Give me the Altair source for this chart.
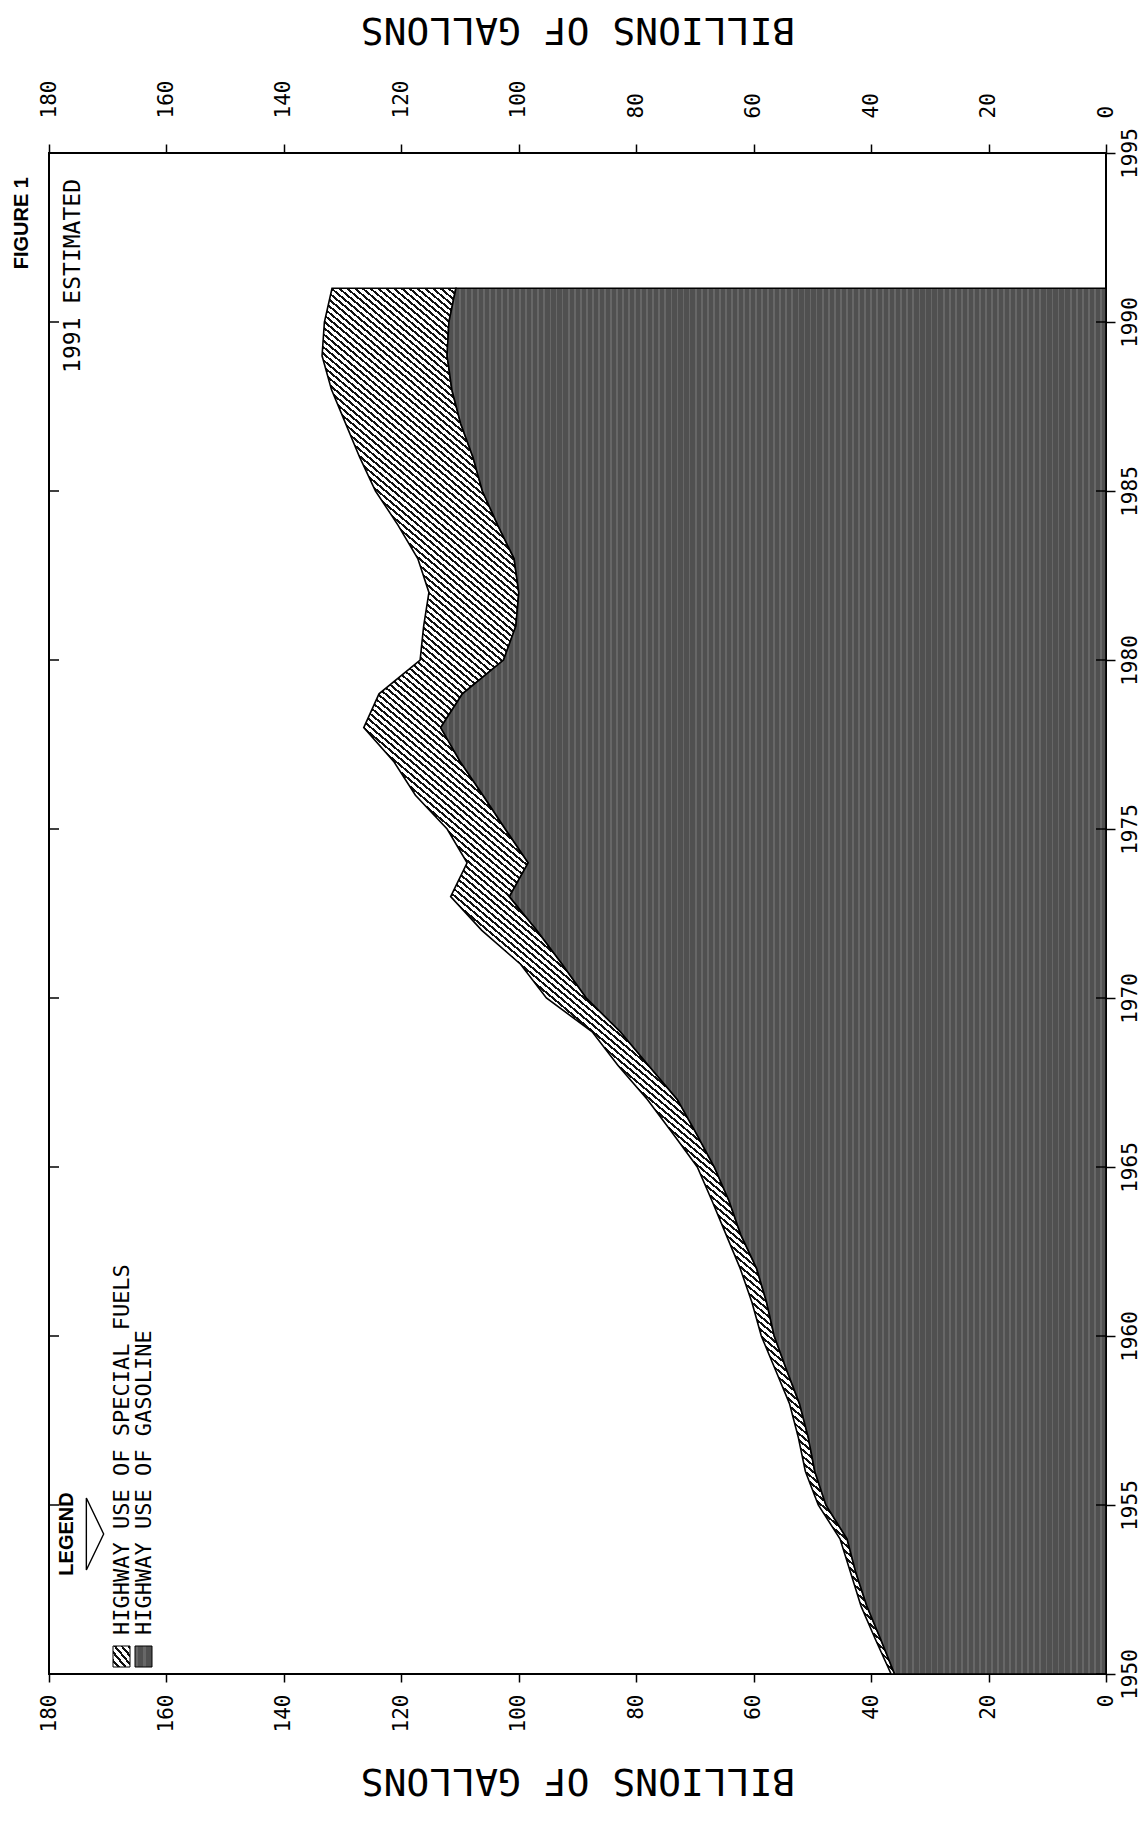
import math
import altair as alt
import pandas as pd

# ---------------- data ----------------
years = list(range(1950, 1992))
total_fuel = [36.6, 39.2, 41.7, 43.5, 45.3, 49.0, 51.2, 52.4, 53.9, 56.3,
              58.7, 60.3, 62.3, 64.7, 67.1, 69.6, 73.8, 78.1, 83.1, 87.5,
              95.3, 99.7, 106.3, 111.6, 108.8, 112.2, 117.6, 121.3, 126.4, 123.8,
              116.8, 116.2, 115.3, 117.2, 120.6, 124.4, 127.1, 129.5, 131.9, 133.5,
              133.1, 131.8]
gasoline = [36.0, 38.3, 40.7, 42.6, 44.1, 47.7, 49.6, 50.7, 52.2, 54.4,
            56.5, 57.8, 59.5, 62.2, 64.2, 66.7, 69.8, 73.0, 77.9, 82.7,
            88.5, 92.6, 96.9, 101.6, 98.4, 102.3, 106.1, 110.0, 113.3, 109.6,
            102.6, 100.5, 100.0, 100.8, 103.6, 106.2, 107.8, 109.9, 111.4, 112.2,
            111.9, 110.7]
value_ticks = [0, 20, 40, 60, 80, 100, 120, 140, 160, 180]
year_ticks = [1950, 1955, 1960, 1965, 1970, 1975, 1980, 1985, 1990, 1995]
axis_title = "BILLIONS OF GALLONS"
legend_heading = "LEGEND"
legend_labels = ["HIGHWAY USE OF SPECIAL FUELS", "HIGHWAY USE OF GASOLINE"]
figure_label = "FIGURE 1"
note_label = "1991 ESTIMATED"

df = pd.DataFrame({"year": years, "total": total_fuel, "gas": gasoline})
tick_df = pd.DataFrame({"year": year_ticks})

# ---------------- layout / style ----------------
W, H = 1057, 1521
MONO = "DejaVu Sans Mono"
SANS = "Liberation Sans"
NARROW = "'Liberation Sans Narrow', 'Liberation Sans', sans-serif"
GAS_DARK, GAS_LIGHT = "#505050", "#676767"


def stripe_gradient(w_px, h_px, angle_deg=40.0, period=5.0, ink=0.4,
                    c_ink="#111111", c_paper="#ffffff"):
    """Straight stripes made from a hard-stop linear gradient."""
    a = math.radians(angle_deg)
    sx, sy = math.cos(a) / w_px, math.sin(a) / h_px
    dx, dy = -sy, sx
    corners = [(0, 0), (1, 0), (0, 1), (1, 1)]
    proj = [cx * dx + cy * dy for cx, cy in corners]
    d2 = dx * dx + dy * dy
    c = 0.5 * dx + 0.5 * dy
    t1 = (min(proj) - c) / d2
    t2 = (max(proj) - c) / d2
    x1, y1 = 0.5 + t1 * dx, 0.5 + t1 * dy
    x2, y2 = 0.5 + t2 * dx, 0.5 + t2 * dy
    nx, ny = -math.sin(a), math.cos(a)
    pc = [cx * w_px * nx + cy * h_px * ny for cx, cy in corners]
    n = max(2, int((max(pc) - min(pc)) / period))
    stops = []
    for i in range(n):
        o0, o1, o2 = i / n, (i + ink) / n, (i + 1) / n
        stops += [alt.GradientStop(color=c_ink, offset=round(o0, 6)),
                  alt.GradientStop(color=c_ink, offset=round(o1, 6)),
                  alt.GradientStop(color=c_paper, offset=round(o1, 6)),
                  alt.GradientStop(color=c_paper, offset=round(o2, 6))]
    return alt.Gradient(gradient="linear", stops=stops,
                        x1=round(x1, 6), y1=round(y1, 6),
                        x2=round(x2, 6), y2=round(y2, 6))


band_w = (max(total_fuel) - min(gasoline)) * W / 180.0
band_h = (max(years) - min(years)) * H / 45.0
band_fill = stripe_gradient(band_w, band_h)
swatch_fill = stripe_gradient(17, 21, angle_deg=50, period=5.0)
gas_w = max(gasoline) * W / 180.0
gas_fill = stripe_gradient(gas_w, band_h, angle_deg=90, period=6.0, ink=0.7,
                           c_ink=GAS_DARK, c_paper=GAS_LIGHT)
gas_swatch = stripe_gradient(17, 21, angle_deg=90, period=6.0, ink=0.7,
                             c_ink=GAS_DARK, c_paper=GAS_LIGHT)

xscale = alt.Scale(domain=[0, 180], reverse=True, nice=False, zero=False)
yscale = alt.Scale(domain=[1950, 1995], nice=False, zero=False)

yaxis = alt.Axis(orient="right", values=year_ticks, format="d", labelAngle=270,
                 labelAlign="center", labelBaseline="top", labelFont=MONO,
                 labelFontSize=21, labelColor="black", labelPadding=4,
                 tickSize=9, tickWidth=1.5, tickColor="black", domain=False,
                 grid=False, title=None)
xbottom = alt.Axis(orient="bottom", values=value_ticks, format="d", labelAngle=270,
                   labelAlign="right", labelBaseline="middle", labelFont=MONO,
                   labelFontSize=21, labelColor="black", labelPadding=12,
                   tickSize=8, tickWidth=1.5, tickColor="black", domain=False,
                   grid=False, title=axis_title, titleAngle=180, titleFont=MONO,
                   titleFontSize=38, titleFontWeight="normal", titleColor="black",
                   titleBaseline="middle", titleY=105)
xtop = alt.Axis(orient="top", values=value_ticks, format="d", labelAngle=270,
                labelAlign="left", labelBaseline="middle", labelFont=MONO,
                labelFontSize=21, labelColor="black", labelPadding=26,
                tickSize=9, tickWidth=1.5, tickColor="black", domain=False,
                grid=False, title=axis_title, titleAngle=180, titleFont=MONO,
                titleFontSize=38, titleFontWeight="normal", titleColor="black",
                titleBaseline="middle", titleY=-125)

base = alt.Chart(df)

band = base.mark_area(orient="horizontal", fill=band_fill, stroke="black",
                      strokeWidth=1.6).encode(
    x=alt.X("total:Q", scale=xscale, axis=xbottom),
    x2=alt.X2("gas:Q"),
    y=alt.Y("year:Q", scale=yscale, axis=yaxis),
)

gas = base.mark_area(orient="horizontal", fill=gas_fill, stroke="black",
                     strokeWidth=1.6).encode(
    x=alt.X("gas:Q", scale=xscale, axis=None),
    x2=alt.X2(datum=0),
    y=alt.Y("year:Q", scale=yscale, axis=yaxis),
)

top_axis_layer = base.mark_point(opacity=0).encode(
    x=alt.X("total:Q", scale=xscale, axis=xtop),
    y=alt.Y("year:Q", scale=yscale, axis=yaxis),
)

left_ticks = alt.Chart(tick_df).mark_rule(color="black", strokeWidth=1.5).encode(
    y=alt.Y("year:Q", scale=yscale, axis=yaxis),
    x=alt.value(0), x2=alt.value(10),
)
right_ticks = alt.Chart(tick_df).mark_rule(color="black", strokeWidth=1.5).encode(
    y=alt.Y("year:Q", scale=yscale, axis=yaxis),
    x=alt.value(W - 10), x2=alt.value(W),
)


def text_layer(text, x, y, size, font=MONO, weight="normal", align="left"):
    return alt.Chart(pd.DataFrame({"t": [text]})).mark_text(
        angle=270, align=align, baseline="middle", font=font, fontSize=size,
        fontWeight=weight, color="black"
    ).encode(x=alt.value(x), y=alt.value(y), text="t:N")


fig_text = text_layer(figure_label, -27, 24, 20, font=SANS, weight="bold", align="right")
note_text = text_layer(note_label, 24, 26, 23, align="right")
legend_head = text_layer(legend_heading, 18, 1381, 20, font=NARROW, weight="bold", align="center")
leg1 = text_layer(legend_labels[0], 72.5, 1482, 22)
leg2 = text_layer(legend_labels[1], 94.5, 1482, 22)

arrow = alt.Chart(pd.DataFrame({"a": [0]})).mark_point(
    shape="M -0.24 -1 L 0.24 0 L -0.24 1 Z", size=5200, filled=False,
    stroke="black", strokeWidth=1.4, opacity=1
).encode(x=alt.value(46), y=alt.value(1381))

sw1 = alt.Chart(pd.DataFrame({"a": [0]})).mark_rect(
    fill=swatch_fill, stroke="black", strokeWidth=1
).encode(x=alt.value(64), x2=alt.value(81), y=alt.value(1493), y2=alt.value(1514))
sw2 = alt.Chart(pd.DataFrame({"a": [0]})).mark_rect(
    fill=gas_swatch, stroke="black", strokeWidth=1
).encode(x=alt.value(86), x2=alt.value(103), y=alt.value(1493), y2=alt.value(1514))

chart = alt.layer(
    band, gas, top_axis_layer, left_ticks, right_ticks,
    fig_text, note_text, legend_head, leg1, leg2, arrow, sw1, sw2
).resolve_scale(x="independent").properties(
    width=W, height=H,
    padding={"left": 41, "top": 145, "right": 34, "bottom": 128},
    autosize=alt.AutoSizeParams(type="none"),
    background="white",
).configure_view(stroke="black", strokeWidth=2)

chart.save("out.html", embed_options={"renderer": "svg", "actions": False})
